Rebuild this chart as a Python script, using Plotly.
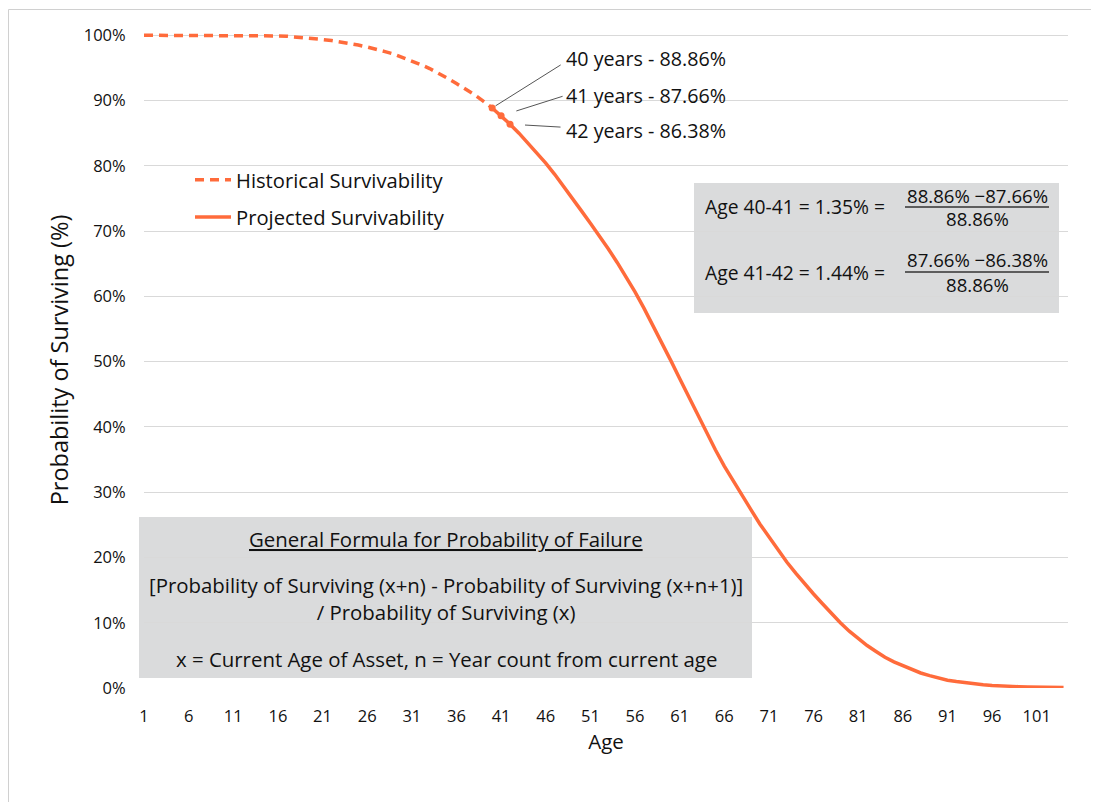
import plotly.graph_objects as go

# ---------------- data ----------------
ages = list(range(1, 105))
survival = [
    100.0, 100.0, 100.0, 100.0, 100.0, 100.0, 100.0, 100.0, 100.0, 100.0,
    100.0, 100.0, 100.0, 100.0, 99.95, 99.9, 99.85, 99.75, 99.65, 99.5,
    99.35, 99.2, 99.0, 98.8, 98.5, 98.2, 97.9, 97.5, 97.1, 96.6,
    96.1, 95.5, 94.9, 94.2, 93.4, 92.6, 91.8, 90.9, 89.9, 88.86,
    87.66, 86.38, 85.0, 83.5, 82.0, 80.4, 78.7, 76.9, 75.0, 73.1,
    71.2, 69.3, 67.3, 65.2, 63.0, 60.7, 58.2, 55.6, 52.9, 50.2,
    47.4, 44.6, 41.8, 39.0, 36.5, 34.0, 31.7, 29.5, 27.3, 25.1,
    23.1, 21.2, 19.3, 17.6, 15.9, 14.4, 12.9, 11.4, 10.0, 8.7,
    7.6, 6.5, 5.6, 4.7, 4.0, 3.4, 2.8, 2.3, 1.9, 1.5,
    1.2, 1.0, 0.8, 0.6, 0.5, 0.4, 0.3, 0.25, 0.2, 0.15,
    0.12, 0.1, 0.08, 0.06,
]
current_age = 40
highlight_ages = [40, 41, 42]
highlight_labels = ["40 years - 88.86%", "41 years - 87.66%", "42 years - 86.38%"]
x_tick_vals = list(range(1, 102, 5))
x_tick_text = [str(v) for v in x_tick_vals]
y_tick_vals = list(range(0, 101, 10))
y_tick_text = [f"{v}%" for v in y_tick_vals]

hist_x = [a for a in ages if a <= current_age]
hist_y = survival[:len(hist_x)]
proj_x = [a for a in ages if a >= current_age]
proj_y = survival[len(hist_x) - 1:]
hl_y = [survival[ages.index(a)] for a in highlight_ages]

# ---------------- style ----------------
FONT = "Open Sans"
ORANGE = "#FF6B3B"
TXT = "#111111"
GRID = "#d9d9d9"
BOX = "#dadbdc"

OFF = 8                      # page body margin
W, H = 1099 - OFF, 802 - OFF
L, R, T, B = 144, 1068, 32, 688   # plot area in screen pixels


def px(x):
    return (x - L) / (R - L)


def py(y):
    return (B - y) / (B - T)


fig = go.Figure()
fig.add_trace(go.Scatter(
    x=hist_x, y=hist_y, mode="lines", name="Historical Survivability",
    line=dict(color=ORANGE, width=3.5, dash="9px,6px"), legendgroup="a"))
fig.add_trace(go.Scatter(
    x=proj_x, y=proj_y, mode="lines", name="Projected Survivability",
    line=dict(color=ORANGE, width=3.5), legendgroup="b"))
fig.add_trace(go.Scatter(
    x=highlight_ages, y=hl_y, mode="markers", showlegend=False,
    marker=dict(color=ORANGE, size=7)))

shapes = []
annotations = []

# outer border
shapes.append(dict(type="rect", xref="paper", yref="paper",
                   x0=px(8.5), x1=px(1110), y0=py(815), y1=py(9.5),
                   line=dict(color="#d0d0d0", width=1), layer="below"))
# grey boxes
shapes.append(dict(type="rect", xref="paper", yref="paper",
                   x0=px(139), x1=px(752), y0=py(678), y1=py(517),
                   fillcolor=BOX, line=dict(width=0), layer="below"))
shapes.append(dict(type="rect", xref="paper", yref="paper",
                   x0=px(694), x1=px(1059), y0=py(313), y1=py(183),
                   fillcolor=BOX, line=dict(width=0), layer="below"))
# fraction bars
for yb in (207, 272):
    shapes.append(dict(type="line", xref="paper", yref="paper",
                       x0=px(905), x1=px(1049), y0=py(yb), y1=py(yb),
                       line=dict(color="#333333", width=1.5)))

# leader lines
offsets = [(70, -44, 4), (63, -20, 16), (52, 3, 15)]
for a, v, (ax, ay, so) in zip(highlight_ages, hl_y, offsets):
    annotations.append(dict(x=a, y=v, xref="x", yref="y", text="",
                            showarrow=True, arrowhead=0, arrowwidth=1,
                            arrowcolor="#555555", ax=ax, ay=ay, standoff=so))
for lbl, yy in zip(highlight_labels, (58, 95, 131)):
    annotations.append(dict(x=px(564), y=py(yy), xref="paper", yref="paper",
                            text=lbl, showarrow=False, xanchor="left",
                            yanchor="middle", font=dict(size=19.7, color=TXT)))

# right box text
for yy, lhs, num, den in ((207, "Age 40-41 = 1.35% =", "88.86% \u221287.66%", "88.86%"),
                          (272, "Age 41-42 = 1.44% =", "87.66% \u221286.38%", "88.86%")):
    annotations.append(dict(x=px(703), y=py(yy), xref="paper", yref="paper",
                            text=lhs, showarrow=False, xanchor="left",
                            yanchor="middle", font=dict(size=19.3, color=TXT)))
    annotations.append(dict(x=px(977), y=py(yy - 12), xref="paper", yref="paper",
                            text=num, showarrow=False, xanchor="center",
                            yanchor="middle", font=dict(size=18.6, color=TXT)))
    annotations.append(dict(x=px(977), y=py(yy + 12), xref="paper", yref="paper",
                            text=den, showarrow=False, xanchor="center",
                            yanchor="middle", font=dict(size=18.6, color=TXT)))

# formula box text
box_lines = [
    ("<u>General Formula for Probability of Failure</u>", 539),
    ("[Probability of Surviving (x+n) - Probability of Surviving (x+n+1)]"
     "<br>/ Probability of Surviving (x)", 598.5),
    ("x = Current Age of Asset, n = Year count from current age", 659),
]
for txt, yy in box_lines:
    annotations.append(dict(x=px(446), y=py(yy), xref="paper", yref="paper",
                            text=txt, showarrow=False, xanchor="center",
                            yanchor="middle", align="center",
                            font=dict(size=20.4, color=TXT)))

fig.update_layout(
    width=W, height=H,
    margin=dict(l=L - OFF, r=W - (R - OFF), t=T - OFF, b=H - (B - OFF)),
    paper_bgcolor="white", plot_bgcolor="white",
    font=dict(family=FONT, color=TXT),
    showlegend=True,
    legend=dict(x=px(190), y=py(160), xanchor="left", yanchor="top",
                bgcolor="rgba(0,0,0,0)", font=dict(size=20.2, color=TXT),
                traceorder="grouped", tracegroupgap=8, itemwidth=36),
    shapes=shapes, annotations=annotations,
)
fig.update_xaxes(range=[1, 104.5], tickvals=x_tick_vals, ticktext=x_tick_text,
                 showgrid=False, zeroline=False, showline=False,
                 ticks="outside", ticklen=13, tickcolor="rgba(0,0,0,0)",
                 tickfont=dict(size=16.5, color=TXT),
                 title=dict(text="Age", font=dict(size=20.5, color=TXT), standoff=7))
fig.update_yaxes(range=[0, 100.5], tickvals=y_tick_vals, ticktext=y_tick_text,
                 showgrid=True, gridcolor=GRID, gridwidth=1, zeroline=False,
                 showline=False, ticks="outside", ticklen=14,
                 tickcolor="rgba(0,0,0,0)", tickfont=dict(size=16.5, color=TXT),
                 title=dict(text="Probability of Surviving (%)",
                            font=dict(size=23.5, color=TXT), standoff=8))

fig.write_html("out.html")
